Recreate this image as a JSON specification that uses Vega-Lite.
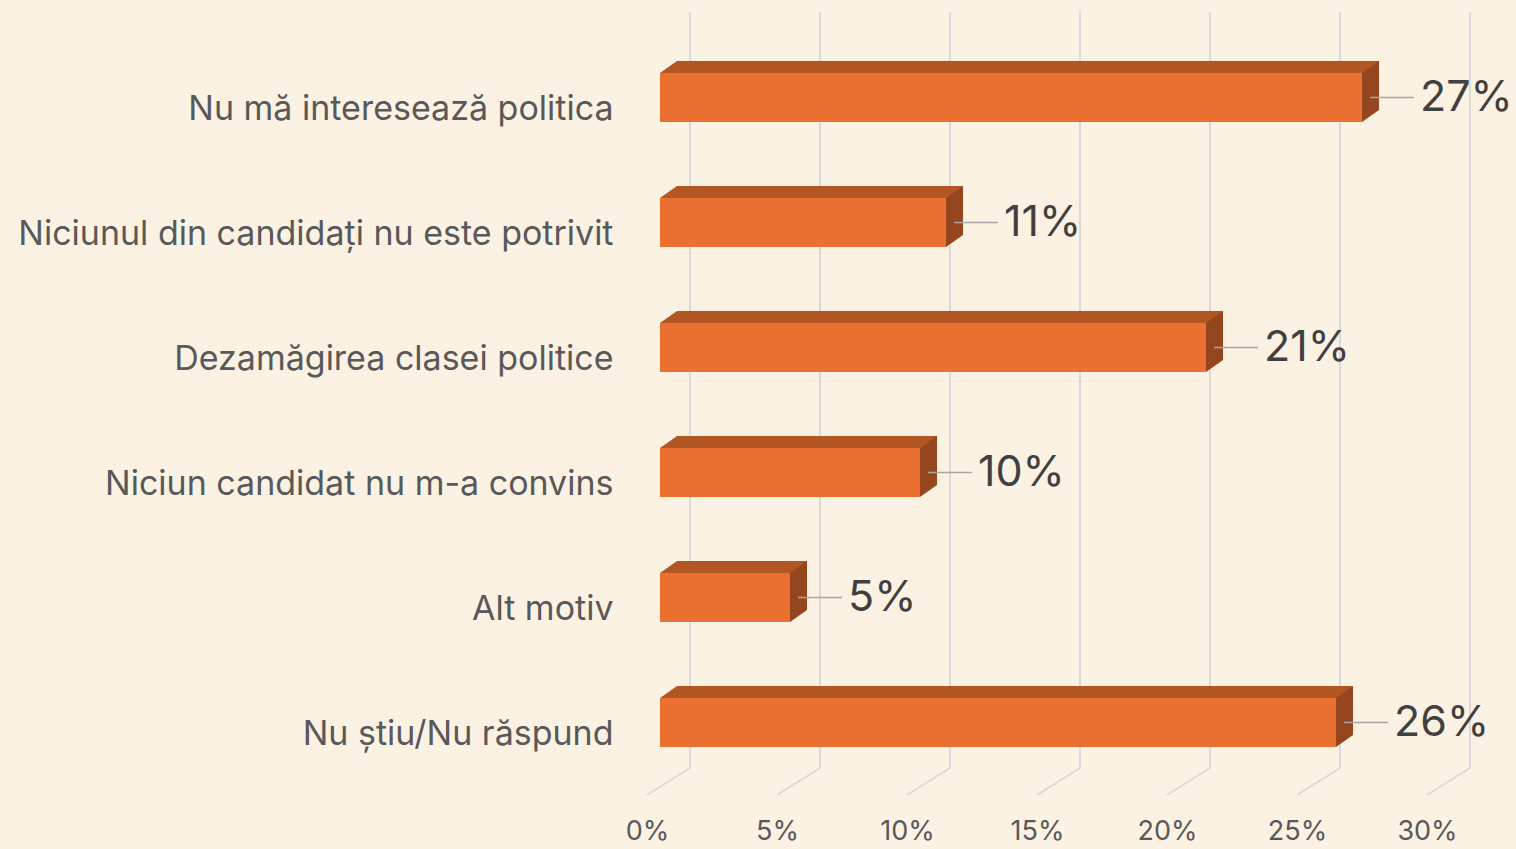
{
  "$schema": "https://vega.github.io/schema/vega-lite/v6.json",
  "width": 780,
  "height": 756,
  "autosize": "none",
  "padding": {"left": 660, "top": 12, "right": 76, "bottom": 81},
  "background": "#FCF2E4",
  "config": {"view": {"stroke": null}, "font": "Inter"},
  "datasets": {
    "bars": [
      {"motiv": "Nu mă interesează politica", "pct": 27, "label": "27%"},
      {"motiv": "Niciunul din candidați nu este potrivit", "pct": 11, "label": "11%"},
      {"motiv": "Dezamăgirea clasei politice", "pct": 21, "label": "21%"},
      {"motiv": "Niciun candidat nu m-a convins", "pct": 10, "label": "10%"},
      {"motiv": "Alt motiv", "pct": 5, "label": "5%"},
      {"motiv": "Nu știu/Nu răspund", "pct": 26, "label": "26%"}
    ],
    "grid": [{"v": 0}, {"v": 5}, {"v": 10}, {"v": 15}, {"v": 20}, {"v": 25}, {"v": 30}]
  },
  "layer": [
    {
      "data": {"name": "grid"},
      "mark": {"type": "rule", "color": "#D9D9D9", "strokeWidth": 2, "xOffset": 30},
      "encoding": {"x": {"field": "v", "type": "quantitative"}}
    },
    {
      "data": {"name": "grid"},
      "mark": {"type": "rule", "color": "#D9D9D9", "strokeWidth": 2, "xOffset": 30, "x2Offset": -13},
      "encoding": {
        "x": {"field": "v", "type": "quantitative"},
        "x2": {"field": "v"},
        "y": {"value": {"expr": "height"}},
        "y2": {"value": {"expr": "height + 27"}}
      }
    },
    {
      "data": {"name": "bars"},
      "mark": {"type": "bar", "color": "#B25624", "height": 12, "yOffset": -30.5, "xOffset": 17, "x2Offset": 17},
      "encoding": {
        "y": {"field": "motiv", "type": "nominal", "sort": null},
        "x": {"field": "pct", "type": "quantitative"},
        "x2": {"datum": 0}
      }
    },
    {
      "data": {"name": "bars"},
      "mark": {"type": "point", "filled": true, "opacity": 1, "color": "#B25624", "strokeWidth": 0, "size": 5329, "shape": "M0,-0.671L0.466,-1L0.466,-0.671Z"},
      "encoding": {
        "y": {"field": "motiv", "type": "nominal", "sort": null},
        "x": {"datum": 0, "type": "quantitative"}
      }
    },
    {
      "data": {"name": "bars"},
      "mark": {"type": "bar", "color": "#EB7133"},
      "encoding": {
        "y": {
          "field": "motiv", "type": "nominal", "sort": null, "title": null,
          "scale": {"paddingInner": 0.608, "paddingOuter": 0.328, "align": 0.744},
          "axis": {"domain": false, "ticks": false, "labelPadding": 47, "labelOffset": 12, "labelFontSize": 34, "labelColor": "#595959", "labelFont": "Inter", "labelLimit": 700}
        },
        "x": {
          "field": "pct", "type": "quantitative", "title": null,
          "scale": {"domain": [0, 30], "nice": false},
          "axis": {"values": [0, 5, 10, 15, 20, 25, 30], "domain": false, "ticks": false, "grid": false, "labelExpr": "datum.value + '%'", "labelOffset": -13, "labelPadding": 50, "labelFontSize": 27, "labelColor": "#595959", "labelFont": "Inter", "labelFlush": false}
        }
      }
    },
    {
      "data": {"name": "bars"},
      "mark": {"type": "point", "filled": true, "opacity": 1, "color": "#96461E", "strokeWidth": 0, "size": 5329, "shape": "M0,-0.671L0.466,-1L0.466,0.342L0,0.671Z"},
      "encoding": {
        "y": {"field": "motiv", "type": "nominal", "sort": null},
        "x": {"field": "pct", "type": "quantitative"}
      }
    },
    {
      "data": {"name": "bars"},
      "mark": {"type": "rule", "color": "#A6A6A6", "strokeWidth": 1.5, "xOffset": 8, "x2Offset": 52},
      "encoding": {
        "y": {"field": "motiv", "type": "nominal", "sort": null},
        "x": {"field": "pct", "type": "quantitative"},
        "x2": {"field": "pct"}
      }
    },
    {
      "data": {"name": "bars"},
      "mark": {"type": "text", "align": "left", "baseline": "middle", "dx": 58, "dy": 0, "fontSize": 43, "color": "#404040", "font": "Inter"},
      "encoding": {
        "y": {"field": "motiv", "type": "nominal", "sort": null},
        "x": {"field": "pct", "type": "quantitative"},
        "text": {"field": "label"}
      }
    }
  ]
}
